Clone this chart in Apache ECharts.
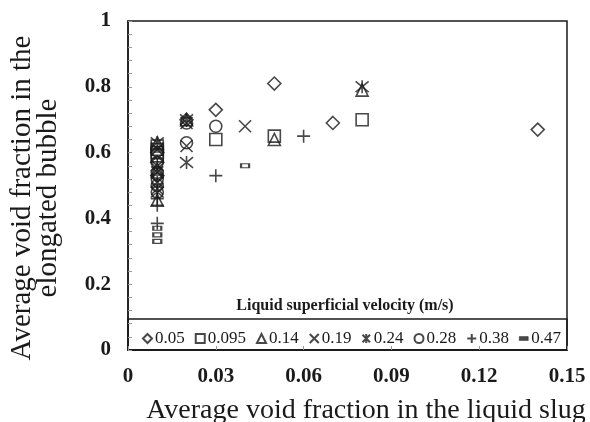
<!DOCTYPE html>
<html><head><meta charset="utf-8">
<script src="https://cdn.jsdelivr.net/npm/echarts@6/dist/echarts.min.js"></script>
<style>html,body{margin:0;padding:0;background:#fff}#c{width:590px;height:422px}</style>
</head><body><div id="c"></div>
<script>
const seriesNames = ['0.05','0.095','0.14','0.19','0.24','0.28','0.38','0.47'];
const xTicks = [0,0.03,0.06,0.09,0.12,0.15];
const yTicks = [0,0.2,0.4,0.6,0.8,1];
const v005 = [[0.01,0.60],[0.01,0.57],[0.01,0.53],[0.02,0.70],[0.03,0.73],[0.05,0.81],[0.07,0.69],[0.14,0.67]];
const v0095 = [[0.01,0.62],[0.01,0.61],[0.01,0.60],[0.01,0.59],[0.03,0.64],[0.05,0.65],[0.08,0.70]];
const v014 = [[0.01,0.63],[0.01,0.55],[0.01,0.455],[0.02,0.70],[0.05,0.64],[0.08,0.79]];
const v019 = [[0.01,0.61],[0.01,0.54],[0.01,0.49],[0.02,0.69],[0.02,0.62],[0.04,0.68]];
const v024 = [[0.01,0.63],[0.01,0.56],[0.01,0.51],[0.01,0.48],[0.02,0.70],[0.02,0.57],[0.08,0.80]];
const v028 = [[0.01,0.57],[0.01,0.54],[0.01,0.52],[0.01,0.50],[0.01,0.48],[0.02,0.69],[0.02,0.63],[0.03,0.68]];
const v038 = [[0.01,0.46],[0.01,0.44],[0.01,0.385],[0.03,0.53],[0.06,0.65]];
const v047 = [[0.01,0.37],[0.01,0.35],[0.01,0.33],[0.04,0.56]];
const allData = [v005,v0095,v014,v019,v024,v028,v038,v047];
const xTitle = 'Average void fraction in the liquid slug';
const yTitle = 'Average void fraction in the\nelongated bubble';
const legendTitle = 'Liquid superficial velocity (m/s)';

const xPath = 'path://M0,0L10,10M10,0L0,10';
const starPath = 'path://M0,0L10,10M10,0L0,10M5,-1L5,11';
const plusPath = 'path://M5,0L5,10M0,5L10,5';
const symbols = ['diamond','rect','triangle',xPath,starPath,'circle',plusPath,'rect'];
const sizes = [13,12,12,12,13,12,13,[8,4]];
const ink = '#1a1a1a';
const serif = '"Liberation Serif","Times New Roman",serif';

const series = allData.map((d,i)=>({
  name: seriesNames[i], type:'scatter', data:d,
  symbol: symbols[i], symbolSize: sizes[i],
  itemStyle:{color:'rgba(0,0,0,0)', borderColor:ink, borderWidth:1.6},
  emphasis:{disabled:true}
}));

const legendData = seriesNames.map((n,i)=> i===7
  ? {name:n, icon:'path://M0,0L9,0L9,4L0,4Z', itemStyle:{color:ink,borderColor:ink,borderWidth:0.5}}
  : {name:n});

const chart = echarts.init(document.getElementById('c'));
chart.setOption({
  animation:false,
  backgroundColor:'#fff',
  grid:{left:128,right:23,top:21,bottom:72,show:true,borderColor:ink,borderWidth:1.5,containLabel:false,outerBoundsMode:'none'},
  xAxis:{type:'value',min:0,max:0.15,interval:0.03,
    axisLine:{lineStyle:{color:ink,width:1.5}},
    axisTick:{inside:true,length:4,lineStyle:{color:'#999'}},
    splitLine:{show:false},
    axisLabel:{color:ink,fontFamily:serif,fontWeight:'bold',fontSize:21,margin:16,
      formatter:v=>String(+v.toFixed(2))}},
  yAxis:{type:'value',min:0,max:1,interval:0.2,
    axisLine:{lineStyle:{color:ink,width:1.5}},
    axisTick:{inside:true,length:4,lineStyle:{color:'#999'}},
    minorTick:{show:true,splitNumber:5,length:4,lineStyle:{color:'#999'}},
    splitLine:{show:false},
    axisLabel:{color:ink,fontFamily:serif,fontWeight:'bold',fontSize:21,margin:17,
      formatter:v=>String(+v.toFixed(1))}},
  legend:{data:legendData,left:137,top:325,itemGap:10,itemWidth:9,itemHeight:9,
    textStyle:{color:ink,fontFamily:serif,fontSize:17,padding:[0,0,0,-2]},selectedMode:false},
  graphic:[
    {type:'rect',shape:{x:128,y:319,width:439,height:31},style:{fill:'none',stroke:ink,lineWidth:1.5},z:-1},
    {type:'text',style:{text:legendTitle,x:345,y:306,align:'center',verticalAlign:'middle',
      font:'bold 16px "Liberation Serif", serif',fill:ink}},
    {type:'text',x:366,y:411,style:{text:xTitle,x:0,y:0,align:'center',verticalAlign:'middle',
      font:'28px "Liberation Serif", serif',fill:ink}},
    {type:'text',x:35,y:198,rotation:Math.PI/2,style:{text:yTitle,x:0,y:0,align:'center',verticalAlign:'middle',
      font:'29px "Liberation Serif", serif',lineHeight:26,fill:ink}}
  ],
  series: series
});
</script></body></html>
